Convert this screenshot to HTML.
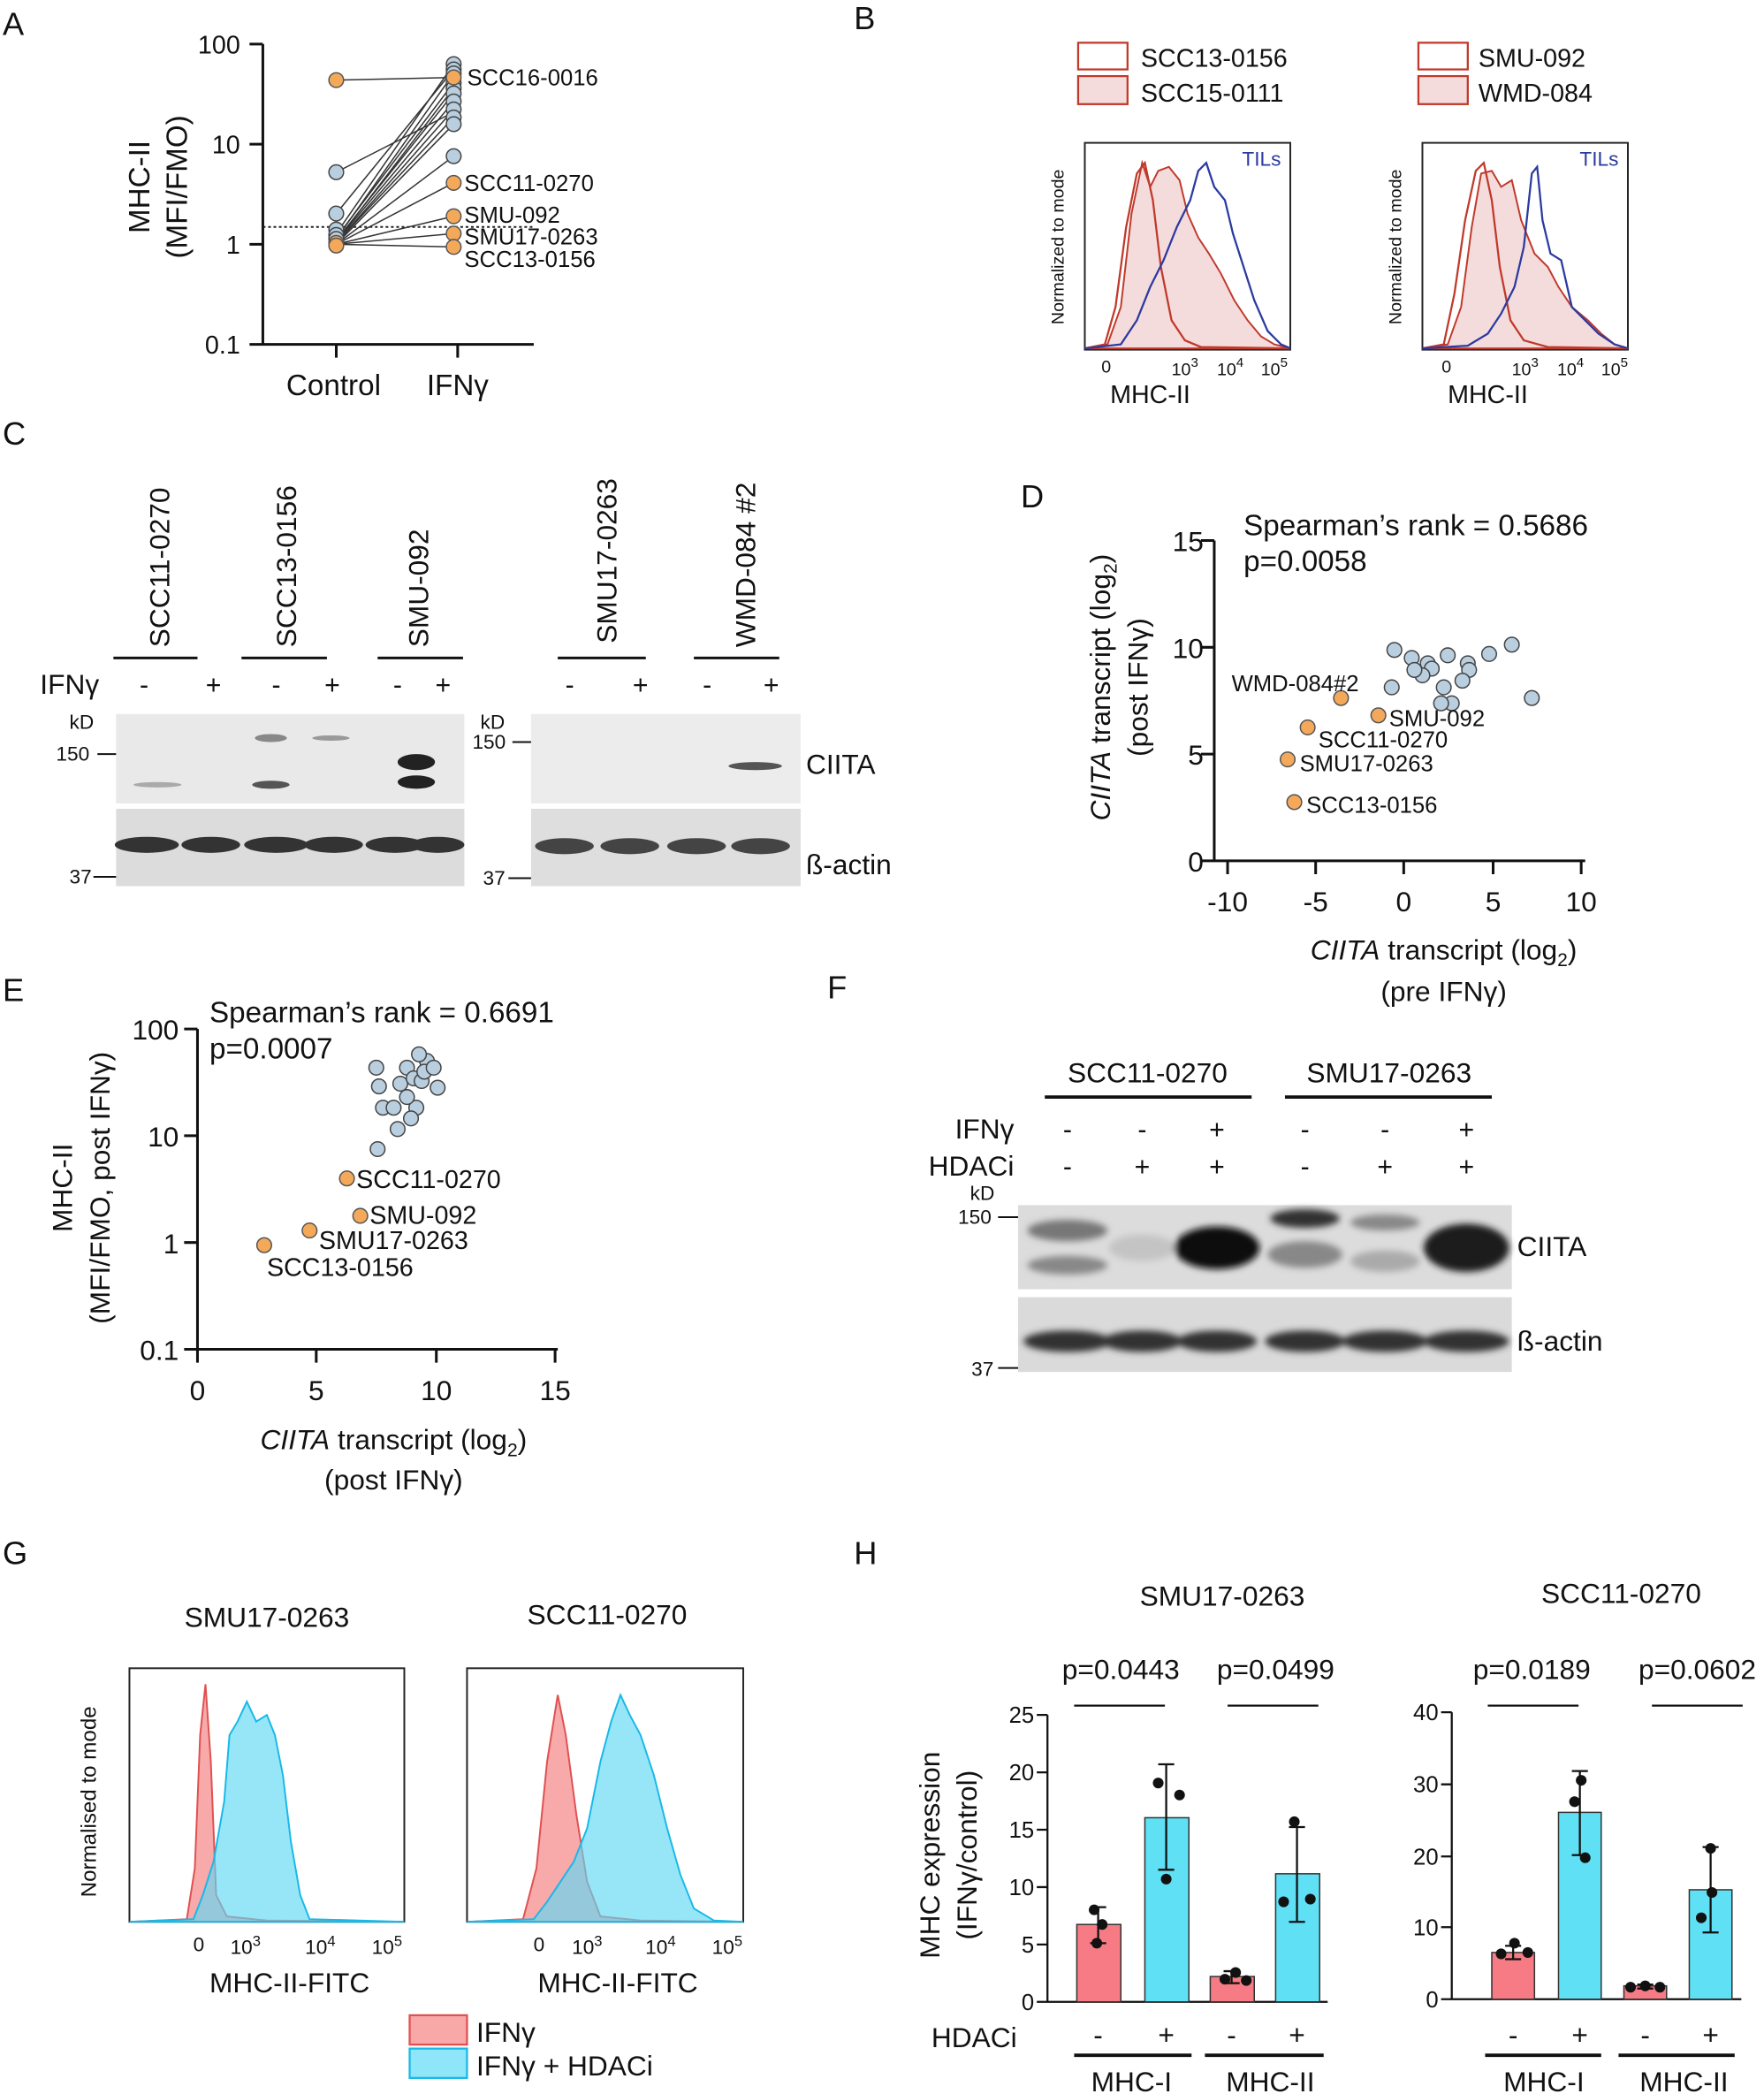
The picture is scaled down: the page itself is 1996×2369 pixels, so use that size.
<!DOCTYPE html>
<html><head><meta charset="utf-8"><style>
html,body{margin:0;padding:0;background:#fff}
svg{display:block}
text{font-family:"Liberation Sans",Arial,sans-serif;fill:#111}
</style></head><body>
<svg width="1996" height="2369" viewBox="0 0 1322 1569" xmlns="http://www.w3.org/2000/svg">
<defs><filter id="bl" x="-20%" y="-50%" width="140%" height="200%"><feGaussianBlur stdDeviation="2.5"/></filter></defs>
<g font-size="22">
<text x="2" y="26" font-size="24">A</text>
<text x="640" y="22" font-size="24">B</text>
<text x="2" y="333" font-size="24">C</text>
<text x="765" y="380" font-size="24">D</text>
<text x="2" y="750" font-size="24">E</text>
<text x="620" y="748" font-size="24">F</text>
<text x="2" y="1172" font-size="24">G</text>
<text x="640" y="1172" font-size="24">H</text>
</g>

<!-- Panel A -->
<g stroke="#111" stroke-width="2" fill="none">
<path d="M197 33V258H400M187 33H197M187 108H197M187 183H197M187 258H197M252 258V268M343 258V268"/>
</g>
<line x1="197" y1="170" x2="400" y2="170" stroke="#222" stroke-dasharray="2,2" stroke-width="1.3"/>
<g font-size="19" text-anchor="end"><text x="180" y="40">100</text><text x="180" y="115">10</text><text x="180" y="190">1</text><text x="180" y="265">0.1</text></g>
<text x="250" y="296" font-size="22" text-anchor="middle">Control</text>
<text x="343" y="296" font-size="22" text-anchor="middle">IFNγ</text>
<text transform="translate(112,140) rotate(-90)" font-size="22" text-anchor="middle">MHC-II</text>
<text transform="translate(140,140) rotate(-90)" font-size="22" text-anchor="middle">(MFI/FMO)</text>
<g stroke="#333" stroke-width="1">
<line x1="252" y1="60" x2="340" y2="58"/><line x1="252" y1="129" x2="340" y2="84"/>
<line x1="252" y1="160" x2="340" y2="52"/><line x1="252" y1="175" x2="340" y2="48"/>
<line x1="252" y1="178" x2="340" y2="62"/><line x1="252" y1="180" x2="340" y2="70"/>
<line x1="252" y1="181" x2="340" y2="76"/><line x1="252" y1="182" x2="340" y2="82"/>
<line x1="252" y1="182" x2="340" y2="88"/><line x1="252" y1="183" x2="340" y2="93"/>
<line x1="252" y1="181" x2="340" y2="66"/><line x1="252" y1="179" x2="340" y2="55"/>
<line x1="252" y1="183" x2="340" y2="117"/><line x1="252" y1="183" x2="340" y2="137"/>
<line x1="252" y1="183" x2="340" y2="162"/><line x1="252" y1="183" x2="340" y2="175"/>
<line x1="252" y1="183" x2="340" y2="185"/>
</g>
<g fill="#b9cfe0" stroke="#444" stroke-width="1">
<circle cx="252" cy="129" r="5.5"/><circle cx="252" cy="160" r="5.5"/><circle cx="252" cy="172" r="5.5"/><circle cx="252" cy="176" r="5.5"/><circle cx="252" cy="179" r="5.5"/>
<circle cx="340" cy="48" r="5.5"/><circle cx="340" cy="52" r="5.5"/><circle cx="340" cy="55" r="5.5"/><circle cx="340" cy="62" r="5.5"/><circle cx="340" cy="66" r="5.5"/><circle cx="340" cy="70" r="5.5"/><circle cx="340" cy="76" r="5.5"/><circle cx="340" cy="82" r="5.5"/><circle cx="340" cy="88" r="5.5"/><circle cx="340" cy="93" r="5.5"/><circle cx="340" cy="117" r="5.5"/>
</g>
<g fill="#f4a95a" stroke="#555" stroke-width="1">
<circle cx="252" cy="60" r="5.5"/><circle cx="252" cy="182" r="5.5"/><circle cx="252" cy="184" r="5.5"/>
<circle cx="340" cy="58" r="5.5"/><circle cx="340" cy="137" r="5.5"/><circle cx="340" cy="162" r="5.5"/><circle cx="340" cy="175" r="5.5"/><circle cx="340" cy="185" r="5.5"/>
</g>
<g font-size="17"><text x="350" y="64">SCC16-0016</text><text x="348" y="143">SCC11-0270</text><text x="348" y="167">SMU-092</text><text x="348" y="183">SMU17-0263</text><text x="348" y="200">SCC13-0156</text></g>

<!-- Panel B -->
<rect x="808" y="32" width="37" height="20" fill="#fff" stroke="#c0392b" stroke-width="1.5"/>
<rect x="808" y="57" width="37" height="21" fill="#f5dcdc" stroke="#c0392b" stroke-width="1.5"/>
<rect x="1063" y="32" width="37" height="20" fill="#fff" stroke="#c0392b" stroke-width="1.5"/>
<rect x="1063" y="57" width="37" height="21" fill="#f5dcdc" stroke="#c0392b" stroke-width="1.5"/>
<g font-size="19"><text x="855" y="50">SCC13-0156</text><text x="855" y="76">SCC15-0111</text><text x="1108" y="50">SMU-092</text><text x="1108" y="76">WMD-084</text></g>
<g>
<rect x="813" y="107" width="154" height="155" fill="#fff" stroke="#222" stroke-width="1.3"/>
<path d="M813 261 L830 258 L840 230 L848 160 L856 122 L862 140 L868 128 L876 125 L884 135 L890 160 L898 178 L906 190 L915 205 L925 225 L935 240 L945 252 L955 258 L967 261Z" fill="#f5dcdc" stroke="#c0392b" stroke-width="1.3"/>
<path d="M813 261 L828 258 L836 230 L844 170 L852 130 L858 122 L864 150 L870 200 L878 240 L888 255 L900 260 L967 261" fill="none" stroke="#c0392b" stroke-width="1.5"/>
<path d="M813 261 L840 258 L852 240 L862 215 L872 195 L882 170 L892 150 L898 128 L904 122 L910 140 L918 150 L924 175 L932 200 L940 225 L950 248 L960 258 L967 261" fill="none" stroke="#2b3aa0" stroke-width="1.5"/>
<text x="960" y="124" font-size="15" text-anchor="end" style="fill:#2b3aa0">TILs</text>
<rect x="1066" y="107" width="154" height="155" fill="#fff" stroke="#222" stroke-width="1.3"/>
<path d="M1066 261 L1085 258 L1095 230 L1103 170 L1110 130 L1118 128 L1125 140 L1133 135 L1140 165 L1150 190 L1160 200 L1168 215 L1178 230 L1190 240 L1200 250 L1210 258 L1220 261Z" fill="#f5dcdc" stroke="#c0392b" stroke-width="1.3"/>
<path d="M1066 261 L1082 258 L1090 220 L1098 165 L1106 128 L1112 122 L1118 150 L1124 200 L1132 240 L1142 255 L1160 260 L1220 261" fill="none" stroke="#c0392b" stroke-width="1.5"/>
<path d="M1066 261 L1100 259 L1115 250 L1125 235 L1135 215 L1142 185 L1148 130 L1152 125 L1156 165 L1162 190 L1170 195 L1178 230 L1188 240 L1198 250 L1210 258 L1220 261" fill="none" stroke="#2b3aa0" stroke-width="1.5"/>
<text x="1213" y="124" font-size="15" text-anchor="end" style="fill:#2b3aa0">TILs</text>
</g>
<text transform="translate(797,185) rotate(-90)" font-size="13" text-anchor="middle">Normalized to mode</text>
<text transform="translate(1050,185) rotate(-90)" font-size="13" text-anchor="middle">Normalized to mode</text>
<g font-size="13" text-anchor="middle">
<text x="829" y="279">0</text><text x="888" y="281">10<tspan dy="-6" font-size="10">3</tspan></text><text x="922" y="281">10<tspan dy="-6" font-size="10">4</tspan></text><text x="955" y="281">10<tspan dy="-6" font-size="10">5</tspan></text>
<text x="1084" y="279">0</text><text x="1143" y="281">10<tspan dy="-6" font-size="10">3</tspan></text><text x="1177" y="281">10<tspan dy="-6" font-size="10">4</tspan></text><text x="1210" y="281">10<tspan dy="-6" font-size="10">5</tspan></text>
</g>
<text x="862" y="302" font-size="19" text-anchor="middle">MHC-II</text>
<text x="1115" y="302" font-size="19" text-anchor="middle">MHC-II</text>

<!-- Panel C -->
<g font-size="21">
<text transform="translate(127,485) rotate(-90)">SCC11-0270</text>
<text transform="translate(222,485) rotate(-90)">SCC13-0156</text>
<text transform="translate(321,485) rotate(-90)">SMU-092</text>
<text transform="translate(462,482) rotate(-90)">SMU17-0263</text>
<text transform="translate(566,485) rotate(-90)">WMD-084 #2</text>
</g>
<g stroke="#111" stroke-width="2"><line x1="85" y1="493" x2="148" y2="493"/><line x1="181" y1="493" x2="245" y2="493"/><line x1="283" y1="493" x2="347" y2="493"/><line x1="418" y1="493" x2="484" y2="493"/><line x1="520" y1="493" x2="584" y2="493"/></g>
<text x="30" y="520" font-size="21">IFNγ</text>
<g font-size="20" text-anchor="middle"><text x="108" y="520">-</text><text x="160" y="520">+</text><text x="207" y="520">-</text><text x="249" y="520">+</text><text x="298" y="520">-</text><text x="332" y="520">+</text><text x="427" y="520">-</text><text x="480" y="520">+</text><text x="530" y="520">-</text><text x="578" y="520">+</text></g>
<rect x="87" y="535" width="261" height="67" fill="#e9e9e9"/>
<rect x="87" y="606" width="261" height="58" fill="#dcdcdc"/>
<rect x="398" y="535" width="202" height="67" fill="#ececec"/>
<rect x="398" y="606" width="202" height="58" fill="#dedede"/>
<g fill="#222">
<ellipse cx="312" cy="571" rx="14" ry="6"/><ellipse cx="312" cy="586" rx="14" ry="5"/>
<ellipse cx="203" cy="588" rx="14" ry="3" fill="#555"/><ellipse cx="203" cy="553" rx="12" ry="3" fill="#888"/><ellipse cx="248" cy="553" rx="14" ry="2" fill="#999"/>
<ellipse cx="118" cy="588" rx="18" ry="2" fill="#aaa"/>
<ellipse cx="566" cy="574" rx="20" ry="3" fill="#555"/>
<ellipse cx="110" cy="633" rx="24" ry="6" fill="#333"/><ellipse cx="158" cy="633" rx="22" ry="6" fill="#333"/><ellipse cx="207" cy="633" rx="24" ry="6" fill="#333"/><ellipse cx="250" cy="633" rx="22" ry="6" fill="#333"/><ellipse cx="296" cy="633" rx="22" ry="6" fill="#333"/><ellipse cx="328" cy="633" rx="20" ry="6" fill="#333"/>
<ellipse cx="423" cy="634" rx="22" ry="6" fill="#444"/><ellipse cx="472" cy="634" rx="22" ry="6" fill="#444"/><ellipse cx="522" cy="634" rx="22" ry="6" fill="#444"/><ellipse cx="570" cy="634" rx="22" ry="6" fill="#444"/>
</g>
<g font-size="15"><text x="52" y="546">kD</text><text x="42" y="570">150</text><text x="52" y="662">37</text><text x="360" y="546">kD</text><text x="354" y="561">150</text><text x="362" y="663">37</text></g>
<g stroke="#111" stroke-width="1.3"><line x1="73" y1="565" x2="87" y2="565"/><line x1="70" y1="657" x2="87" y2="657"/><line x1="384" y1="556" x2="398" y2="556"/><line x1="381" y1="658" x2="398" y2="658"/></g>
<text x="604" y="580" font-size="21">CIITA</text>
<text x="604" y="655" font-size="21">ß-actin</text>

<!-- Panel D -->
<g stroke="#111" stroke-width="2" fill="none"><path d="M910 405V645H1188M900 405H910M900 485H910M900 565H910M900 645H910M920 645V655M986 645V655M1052 645V655M1119 645V655M1185 645V655"/></g>
<g font-size="21" text-anchor="end"><text x="902" y="413">15</text><text x="902" y="493">10</text><text x="902" y="573">5</text><text x="902" y="653">0</text></g>
<g font-size="21" text-anchor="middle"><text x="920" y="683">-10</text><text x="986" y="683">-5</text><text x="1052" y="683">0</text><text x="1119" y="683">5</text><text x="1185" y="683">10</text></g>
<text x="932" y="401" font-size="22">Spearman’s rank = 0.5686</text>
<text x="932" y="428" font-size="22">p=0.0058</text>
<text transform="translate(832,515) rotate(-90)" font-size="21" text-anchor="middle"><tspan font-style="italic">CIITA</tspan> transcript (log<tspan font-size="14" dy="5">2</tspan><tspan dy="-5">)</tspan></text>
<text transform="translate(860,515) rotate(-90)" font-size="21" text-anchor="middle">(post IFNγ)</text>
<text x="1082" y="719" font-size="21" text-anchor="middle"><tspan font-style="italic">CIITA</tspan> transcript (log<tspan font-size="14" dy="5">2</tspan><tspan dy="-5">)</tspan></text>
<text x="1082" y="750" font-size="21" text-anchor="middle">(pre IFNγ)</text>
<g fill="#b9cfe0" stroke="#444" stroke-width="1">
<circle cx="1045" cy="487" r="5.5"/><circle cx="1058" cy="493" r="5.5"/><circle cx="1070" cy="497" r="5.5"/><circle cx="1073" cy="501" r="5.5"/><circle cx="1066" cy="506" r="5.5"/><circle cx="1085" cy="491" r="5.5"/><circle cx="1100" cy="497" r="5.5"/><circle cx="1116" cy="490" r="5.5"/><circle cx="1133" cy="483" r="5.5"/><circle cx="1101" cy="502" r="5.5"/><circle cx="1096" cy="510" r="5.5"/><circle cx="1082" cy="515" r="5.5"/><circle cx="1088" cy="527" r="5.5"/><circle cx="1080" cy="527" r="5.5"/><circle cx="1043" cy="515" r="5.5"/><circle cx="1148" cy="523" r="5.5"/><circle cx="1060" cy="502" r="5.5"/>
</g>
<g fill="#f4a95a" stroke="#555" stroke-width="1"><circle cx="1005" cy="523" r="5.5"/><circle cx="1033" cy="536" r="5.5"/><circle cx="980" cy="545" r="5.5"/><circle cx="965" cy="569" r="5.5"/><circle cx="970" cy="601" r="5.5"/></g>
<g font-size="17"><text x="923" y="518">WMD-084#2</text><text x="1041" y="544">SMU-092</text><text x="988" y="560">SCC11-0270</text><text x="974" y="578">SMU17-0263</text><text x="979" y="609">SCC13-0156</text></g>

<!-- Panel E -->
<g stroke="#111" stroke-width="2" fill="none"><path d="M148 771V1011H418M138 771H148M138 851H148M138 931H148M138 1011H148M148 1011V1021M237 1011V1021M327 1011V1021M416 1011V1021"/></g>
<g font-size="21" text-anchor="end"><text x="134" y="779">100</text><text x="134" y="859">10</text><text x="134" y="939">1</text><text x="134" y="1019">0.1</text></g>
<g font-size="21" text-anchor="middle"><text x="148" y="1049">0</text><text x="237" y="1049">5</text><text x="327" y="1049">10</text><text x="416" y="1049">15</text></g>
<text x="157" y="766" font-size="22">Spearman’s rank = 0.6691</text>
<text x="157" y="793" font-size="22">p=0.0007</text>
<text transform="translate(54,890) rotate(-90)" font-size="21" text-anchor="middle">MHC-II</text>
<text transform="translate(82,890) rotate(-90)" font-size="21" text-anchor="middle">(MFI/FMO, post IFNγ)</text>
<text x="295" y="1086" font-size="21" text-anchor="middle"><tspan font-style="italic">CIITA</tspan> transcript (log<tspan font-size="14" dy="5">2</tspan><tspan dy="-5">)</tspan></text>
<text x="295" y="1116" font-size="21" text-anchor="middle">(post IFNγ)</text>
<g fill="#b9cfe0" stroke="#444" stroke-width="1">
<circle cx="283" cy="861" r="5.5"/><circle cx="287" cy="830" r="5.5"/><circle cx="282" cy="800" r="5.5"/><circle cx="284" cy="814" r="5.5"/><circle cx="295" cy="830" r="5.5"/><circle cx="300" cy="812" r="5.5"/><circle cx="305" cy="800" r="5.5"/><circle cx="310" cy="808" r="5.5"/><circle cx="312" cy="830" r="5.5"/><circle cx="316" cy="810" r="5.5"/><circle cx="320" cy="795" r="5.5"/><circle cx="314" cy="790" r="5.5"/><circle cx="318" cy="803" r="5.5"/><circle cx="325" cy="800" r="5.5"/><circle cx="328" cy="815" r="5.5"/><circle cx="305" cy="822" r="5.5"/><circle cx="308" cy="838" r="5.5"/><circle cx="298" cy="846" r="5.5"/>
</g>
<g fill="#f4a95a" stroke="#555" stroke-width="1"><circle cx="260" cy="883" r="5.5"/><circle cx="270" cy="911" r="5.5"/><circle cx="232" cy="922" r="5.5"/><circle cx="198" cy="933" r="5.5"/></g>
<g font-size="19"><text x="267" y="890">SCC11-0270</text><text x="277" y="917">SMU-092</text><text x="239" y="936">SMU17-0263</text><text x="200" y="956">SCC13-0156</text></g>

<!-- Panel F -->
<g font-size="21" text-anchor="middle"><text x="860" y="811">SCC11-0270</text><text x="1041" y="811">SMU17-0263</text></g>
<g stroke="#111" stroke-width="2.5"><line x1="783" y1="822" x2="938" y2="822"/><line x1="963" y1="822" x2="1118" y2="822"/></g>
<g font-size="21" text-anchor="end"><text x="760" y="853">IFNγ</text><text x="760" y="881">HDACi</text></g>
<g font-size="20" text-anchor="middle">
<text x="800" y="853">-</text><text x="856" y="853">-</text><text x="912" y="853">+</text><text x="978" y="853">-</text><text x="1038" y="853">-</text><text x="1099" y="853">+</text>
<text x="800" y="881">-</text><text x="856" y="881">+</text><text x="912" y="881">+</text><text x="978" y="881">-</text><text x="1038" y="881">+</text><text x="1099" y="881">+</text>
</g>
<text x="727" y="899" font-size="15">kD</text>
<text x="718" y="917" font-size="15">150</text>
<text x="728" y="1031" font-size="15">37</text>
<g stroke="#111" stroke-width="1.3"><line x1="748" y1="912" x2="763" y2="912"/><line x1="748" y1="1025" x2="763" y2="1025"/></g>
<rect x="763" y="903" width="370" height="63" fill="#dcdcdc"/>
<rect x="763" y="972" width="370" height="56" fill="#dadada"/>
<g filter="url(#bl)">
<ellipse cx="800" cy="922" rx="30" ry="8" fill="#777"/><ellipse cx="800" cy="948" rx="30" ry="7" fill="#888"/>
<ellipse cx="856" cy="935" rx="25" ry="10" fill="#c4c4c4"/>
<ellipse cx="978" cy="913" rx="26" ry="7" fill="#333"/><ellipse cx="978" cy="940" rx="28" ry="10" fill="#888"/>
<ellipse cx="1038" cy="916" rx="26" ry="6" fill="#888"/><ellipse cx="1038" cy="945" rx="26" ry="8" fill="#aaa"/>
<ellipse cx="912" cy="935" rx="32" ry="16" fill="#111"/>
<ellipse cx="1099" cy="935" rx="32" ry="18" fill="#1a1a1a"/>
<ellipse cx="800" cy="1005" rx="33" ry="8" fill="#333"/><ellipse cx="856" cy="1005" rx="30" ry="8" fill="#333"/><ellipse cx="912" cy="1005" rx="30" ry="8" fill="#333"/><ellipse cx="978" cy="1005" rx="30" ry="8" fill="#333"/><ellipse cx="1038" cy="1005" rx="32" ry="8" fill="#333"/><ellipse cx="1099" cy="1005" rx="32" ry="8" fill="#333"/>
</g>
<text x="1137" y="941" font-size="21">CIITA</text>
<text x="1137" y="1012" font-size="21">ß-actin</text>

<!-- Panel G -->
<g font-size="21" text-anchor="middle"><text x="200" y="1219">SMU17-0263</text><text x="455" y="1217">SCC11-0270</text></g>
<rect x="97" y="1250" width="206" height="190" fill="#fff" stroke="#222" stroke-width="1.3"/>
<path d="M97 1440 L140 1438 L146 1400 L150 1300 L154 1262 L158 1320 L162 1420 L170 1436 L200 1439 L303 1440Z" fill="#f79a9a" fill-opacity="0.85" stroke="#e05050" stroke-width="1.3"/>
<path d="M97 1440 L145 1438 L152 1420 L160 1395 L168 1350 L172 1300 L178 1290 L185 1275 L192 1290 L200 1285 L206 1300 L212 1330 L218 1380 L225 1420 L232 1438 L303 1440Z" fill="#5fd8f5" fill-opacity="0.65" stroke="#18b8e8" stroke-width="1.3"/>
<rect x="350" y="1250" width="207" height="190" fill="#fff" stroke="#222" stroke-width="1.3"/>
<path d="M350 1440 L392 1438 L402 1400 L410 1320 L418 1270 L424 1300 L432 1360 L440 1410 L450 1436 L480 1439 L557 1440Z" fill="#f79a9a" fill-opacity="0.85" stroke="#e05050" stroke-width="1.3"/>
<path d="M350 1440 L400 1438 L410 1425 L420 1410 L430 1395 L440 1370 L450 1320 L458 1290 L465 1270 L472 1285 L480 1300 L490 1330 L500 1370 L510 1405 L520 1430 L535 1439 L557 1440Z" fill="#5fd8f5" fill-opacity="0.65" stroke="#18b8e8" stroke-width="1.3"/>
<text transform="translate(72,1350) rotate(-90)" font-size="16" text-anchor="middle">Normalised to mode</text>
<g font-size="15" text-anchor="middle">
<text x="149" y="1462">0</text><text x="184" y="1464">10<tspan dy="-6" font-size="11">3</tspan></text><text x="240" y="1464">10<tspan dy="-6" font-size="11">4</tspan></text><text x="290" y="1464">10<tspan dy="-6" font-size="11">5</tspan></text>
<text x="404" y="1462">0</text><text x="440" y="1464">10<tspan dy="-6" font-size="11">3</tspan></text><text x="495" y="1464">10<tspan dy="-6" font-size="11">4</tspan></text><text x="545" y="1464">10<tspan dy="-6" font-size="11">5</tspan></text>
</g>
<g font-size="21" text-anchor="middle"><text x="217" y="1493">MHC-II-FITC</text><text x="463" y="1493">MHC-II-FITC</text></g>
<rect x="307" y="1510" width="43" height="22" fill="#f9a8a8" stroke="#e05050" stroke-width="1.5"/>
<rect x="307" y="1535" width="43" height="22" fill="#8fe6f8" stroke="#18b8e8" stroke-width="1.5"/>
<text x="357" y="1530" font-size="21">IFNγ</text>
<text x="357" y="1555" font-size="21">IFNγ + HDACi</text>

<!-- Panel H -->
<g font-size="21" text-anchor="middle"><text x="916" y="1203">SMU17-0263</text><text x="1215" y="1201">SCC11-0270</text></g>
<g font-size="21" text-anchor="middle"><text x="840" y="1258">p=0.0443</text><text x="956" y="1258">p=0.0499</text><text x="1148" y="1258">p=0.0189</text><text x="1272" y="1258">p=0.0602</text></g>
<g stroke="#111" stroke-width="1.5"><line x1="805" y1="1278" x2="873" y2="1278"/><line x1="920" y1="1278" x2="988" y2="1278"/><line x1="1115" y1="1278" x2="1183" y2="1278"/><line x1="1238" y1="1278" x2="1306" y2="1278"/></g>
<g stroke="#111" stroke-width="1.5" fill="none"><path d="M785 1285V1500H995M777 1285H785M777 1328H785M777 1371H785M777 1414H785M777 1457H785M777 1500H785"/>
<path d="M1088 1283V1498H1305M1080 1283H1088M1080 1337H1088M1080 1391H1088M1080 1444H1088M1080 1498H1088"/></g>
<g font-size="17" text-anchor="end"><text x="775" y="1291">25</text><text x="775" y="1334">20</text><text x="775" y="1377">15</text><text x="775" y="1420">10</text><text x="775" y="1463">5</text><text x="775" y="1506">0</text>
<text x="1078" y="1289">40</text><text x="1078" y="1343">30</text><text x="1078" y="1397">20</text><text x="1078" y="1450">10</text><text x="1078" y="1504">0</text></g>
<g stroke="#333" stroke-width="1">
<rect x="807" y="1442" width="33" height="58" fill="#f77b84"/><rect x="858" y="1362" width="33" height="138" fill="#5fe0f4"/>
<rect x="907" y="1481" width="33" height="19" fill="#f77b84"/><rect x="956" y="1404" width="33" height="96" fill="#5fe0f4"/>
<rect x="1118" y="1463" width="32" height="35" fill="#f77b84"/><rect x="1168" y="1358" width="32" height="140" fill="#5fe0f4"/>
<rect x="1217" y="1488" width="32" height="10" fill="#f77b84"/><rect x="1266" y="1416" width="32" height="82" fill="#5fe0f4"/>
</g>
<g stroke="#111" stroke-width="1.5" fill="none">
<path d="M823 1429V1456M817 1429H829M817 1456H829"/><path d="M874 1322V1401M868 1322H880M868 1401H880"/>
<path d="M923 1477V1486M917 1477H929M917 1486H929"/><path d="M972 1369V1440M966 1369H978M966 1440H978"/>
<path d="M1134 1458V1468M1128 1458H1140M1128 1468H1140"/><path d="M1184 1327V1390M1178 1327H1190M1178 1390H1190"/>
<path d="M1233 1487V1490M1227 1487H1239M1227 1490H1239"/><path d="M1282 1384V1448M1276 1384H1288M1276 1448H1288"/>
</g>
<g fill="#111">
<circle cx="820" cy="1431" r="4"/><circle cx="826" cy="1442" r="4"/><circle cx="822" cy="1456" r="4"/>
<circle cx="868" cy="1336" r="4"/><circle cx="884" cy="1345" r="4"/><circle cx="874" cy="1408" r="4"/>
<circle cx="918" cy="1483" r="4"/><circle cx="926" cy="1478" r="4"/><circle cx="934" cy="1484" r="4"/>
<circle cx="970" cy="1365" r="4"/><circle cx="962" cy="1425" r="4"/><circle cx="982" cy="1423" r="4"/>
<circle cx="1125" cy="1464" r="4"/><circle cx="1135" cy="1456" r="4"/><circle cx="1145" cy="1463" r="4"/>
<circle cx="1185" cy="1334" r="4"/><circle cx="1180" cy="1350" r="4"/><circle cx="1188" cy="1392" r="4"/>
<circle cx="1222" cy="1489" r="4"/><circle cx="1233" cy="1488" r="4"/><circle cx="1244" cy="1489" r="4"/>
<circle cx="1282" cy="1385" r="4"/><circle cx="1275" cy="1437" r="4"/><circle cx="1283" cy="1418" r="4"/>
</g>
<text transform="translate(704,1390) rotate(-90)" font-size="21" text-anchor="middle">MHC expression</text>
<text transform="translate(732,1390) rotate(-90)" font-size="21" text-anchor="middle">(IFNγ/control)</text>
<text x="698" y="1534" font-size="21">HDACi</text>
<g font-size="21" text-anchor="middle"><text x="823" y="1532">-</text><text x="874" y="1532">+</text><text x="923" y="1532">-</text><text x="972" y="1532">+</text><text x="1134" y="1532">-</text><text x="1184" y="1532">+</text><text x="1233" y="1532">-</text><text x="1282" y="1532">+</text></g>
<g stroke="#111" stroke-width="2.5"><line x1="805" y1="1540" x2="893" y2="1540"/><line x1="903" y1="1540" x2="992" y2="1540"/><line x1="1113" y1="1540" x2="1200" y2="1540"/><line x1="1213" y1="1540" x2="1300" y2="1540"/></g>
<g font-size="21" text-anchor="middle"><text x="848" y="1567">MHC-I</text><text x="952" y="1567">MHC-II</text><text x="1157" y="1567">MHC-I</text><text x="1262" y="1567">MHC-II</text></g>
</svg>
</body></html>
